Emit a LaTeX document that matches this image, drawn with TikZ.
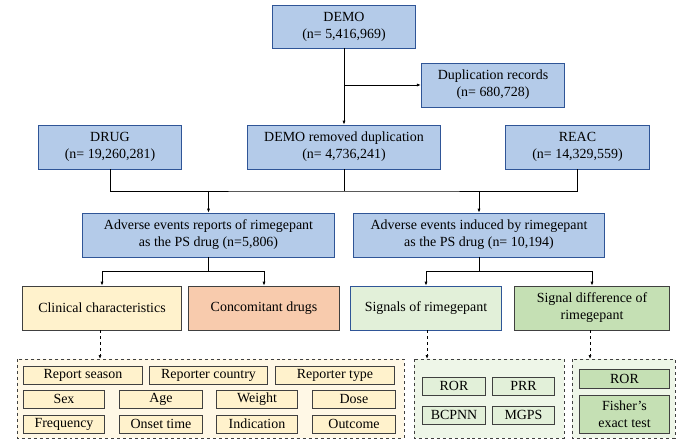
\documentclass[tikz,border=0pt]{standalone}
\usepackage{fontspec}
\setmainfont{Liberation Serif}
\usetikzlibrary{arrows.meta}
\definecolor{bfill}{HTML}{B4CBE9}
\definecolor{bline}{HTML}{2F5597}
\definecolor{yfill}{HTML}{FFF2CC}
\definecolor{ofill}{HTML}{F8CBAD}
\definecolor{lgfill}{HTML}{E2F0D9}
\definecolor{gfill}{HTML}{C5E0B4}
\definecolor{dline}{HTML}{404040}
\begin{document}
\begin{tikzpicture}[x=1bp,y=-1bp,font=\fontsize{14}{17}\selectfont,
  box/.style={draw,line width=0.8pt,align=center,inner sep=0pt},
  bb/.style={box,draw=bline,fill=bfill},
  yb/.style={box,draw=dline,fill=yfill},
  ob/.style={box,draw=dline,fill=ofill},
  lb/.style={box,draw=bline,fill=lgfill},
  gb/.style={box,draw=dline,fill=gfill},
  lgb/.style={box,draw=dline,fill=lgfill},
  cont/.style={draw=dline,dashed,line width=0.9pt},
  arr/.style={-{Latex[length=4pt,width=3pt]},line width=0.7pt},
  ln/.style={line width=0.7pt},
  darr/.style={arr,dashed}]
\useasboundingbox (0,0) rectangle (685,445);
\newcommand\bx[6]{\node[#1,minimum width=#4-#2,minimum height=#5-#3] (#6) at ({(#2+#4)/2},{(#3+#5)/2})}
\bx{bb}{272}{5}{416}{48}{demo} {DEMO\\(n= 5,416,969)};
\bx{bb}{421}{63}{565}{107}{dup} {Duplication records\\(n= 680,728)};
\bx{bb}{38}{125}{182}{169}{drug} {DRUG\\(n= 19,260,281)};
\bx{bb}{247}{125}{441}{169}{rem} {DEMO removed duplication\\(n= 4,736,241)};
\bx{bb}{505}{125}{650}{169}{reac} {REAC\\(n= 14,329,559)};
\bx{bb}{82}{213}{335}{257}{ael} {Adverse events reports of rimegepant\\as the PS drug (n=5,806)};
\bx{bb}{353}{213}{605}{257}{aer} {Adverse events induced by rimegepant\\as the PS drug (n= 10,194)};
\bx{yb}{22}{286}{182}{330}{cc} {Clinical characteristics};
\bx{ob}{188}{286}{340}{330}{cd} {Concomitant drugs};
\bx{lb}{350}{286}{502}{330}{sr} {Signals of rimegepant};
\bx{gb}{514}{286}{670}{330}{sd} {Signal difference of\\rimegepant};
% containers
\draw[cont,fill=yfill!50] (17,359) rectangle (404,438);
\draw[cont,fill=lgfill!60] (414,359) rectangle (564,438);
\draw[cont,fill=lgfill!60] (572,359) rectangle (675,438);
\coordinate (c1) at (100,359);
\coordinate (c2) at (427,359);
\coordinate (c3) at (590,359);
% yellow items
\bx{yb}{23}{366}{143}{384}{y1}{Report season};
\bx{yb}{149}{366}{268}{384}{y2}{Reporter country};
\bx{yb}{275}{366}{395}{384}{y3}{Reporter type};
\bx{yb}{23}{390}{105}{408}{y4}{Sex};
\bx{yb}{119}{390}{203}{408}{y5}{Age};
\bx{yb}{216}{390}{298}{408}{y6}{Weight};
\bx{yb}{312}{390}{396}{408}{y7}{Dose};
\bx{yb}{23}{415}{105}{433}{y8}{Frequency};
\bx{yb}{119}{415}{203}{433}{y9}{Onset time};
\bx{yb}{216}{415}{298}{433}{y10}{Indication};
\bx{yb}{312}{415}{396}{433}{y11}{Outcome};
\bx{lgb}{422}{377}{486}{395}{g1}{ROR};
\bx{lgb}{492}{377}{555}{395}{g2}{PRR};
\bx{lgb}{422}{406}{486}{424}{g3}{BCPNN};
\bx{lgb}{492}{406}{555}{424}{g4}{MGPS};
\bx{gb}{579}{369}{670}{388}{h1}{ROR};
\bx{gb}{579}{395}{670}{433}{h2}{Fisher’s\\exact test};
% connectors
\draw[arr] (demo.south) -- (rem.north);
\draw[arr] (demo.south |- dup.west) -- (dup.west);
\coordinate (m) at (344,191);
\draw[ln] (drug.south) |- (m) -| (reac.south);
\draw[ln] (rem.south) -- (m);
\draw[arr] (ael.north |- m) -- (ael.north);
\draw[arr] (aer.north |- m) -- (aer.north);
\draw[ln] (ael.south) -- ++(0,14) coordinate (jl);
\draw[ln] (jl -| cc.north) -- (jl -| cd.north);
\draw[arr] (jl -| cc.north) -- (cc.north);
\draw[arr] (jl -| cd.north) -- (cd.north);
\draw[ln] (aer.south) -- ++(0,14) coordinate (jr);
\draw[ln] (jr -| sr.north) -- (jr -| sd.north);
\draw[arr] (jr -| sr.north) -- (sr.north);
\draw[arr] (jr -| sd.north) -- (sd.north);
\draw[darr] (cc.south -| c1) -- (c1);
\draw[darr] (sr.south -| c2) -- (c2);
\draw[darr] (sd.south -| c3) -- (c3);
\end{tikzpicture}
\end{document}
